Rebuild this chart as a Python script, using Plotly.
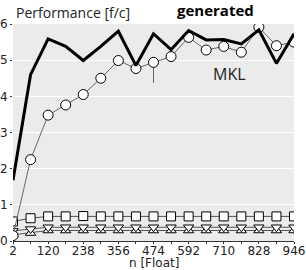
import plotly.graph_objects as go

n_values = [2, 61, 120, 179, 238, 297, 356, 415, 474, 533, 592, 651, 710, 769, 828, 887, 946]
generated = [1.68, 4.6, 5.59, 5.38, 4.99, 5.38, 5.8, 4.85, 5.73, 5.29, 5.82, 5.56, 5.57, 5.45, 5.84, 4.91, 5.73]
mkl = [0.15, 2.25, 3.48, 3.76, 4.05, 4.5, 4.99, 4.77, 4.94, 5.1, 5.63, 5.28, 5.38, 5.22, 5.91, 5.4, 5.5]
mkl_err_minus = [0, 0, 0, 0, 0, 0, 0, 0, 0.57, 0, 0, 0, 0, 0, 0, 0, 0]
squares = [0.54, 0.63, 0.68, 0.68, 0.69, 0.68, 0.68, 0.68, 0.68, 0.68, 0.68, 0.68, 0.68, 0.68, 0.68, 0.68, 0.68]
tri_down = [0.28, 0.33, 0.38, 0.38, 0.38, 0.38, 0.38, 0.38, 0.38, 0.38, 0.38, 0.38, 0.38, 0.38, 0.38, 0.38, 0.38]
tri_up = [0.17, 0.22, 0.29, 0.29, 0.29, 0.29, 0.29, 0.29, 0.29, 0.29, 0.29, 0.29, 0.29, 0.29, 0.29, 0.29, 0.29]
x_tick_labels = ["2", "", "120", "", "238", "", "356", "", "474", "", "592", "", "710", "", "828", "", "946"]
y_ticks = [0, 1, 2, 3, 4, 5, 6]

fig = go.Figure()

fig.add_trace(go.Scatter(x=n_values, y=tri_up, mode="lines+markers",
                         line=dict(color="#555555", width=1),
                         marker=dict(symbol="triangle-up", size=9, color="white",
                                     line=dict(color="black", width=1))))
fig.add_trace(go.Scatter(x=n_values, y=tri_down, mode="lines+markers",
                         line=dict(color="#555555", width=1),
                         marker=dict(symbol="triangle-down", size=9, color="white",
                                     line=dict(color="black", width=1))))
fig.add_trace(go.Scatter(x=n_values, y=squares, mode="lines+markers",
                         line=dict(color="#555555", width=1),
                         marker=dict(symbol="square", size=9, color="white",
                                     line=dict(color="black", width=1))))
fig.add_trace(go.Scatter(x=n_values, y=mkl, mode="lines+markers",
                         line=dict(color="#666666", width=1),
                         error_y=dict(type="data", symmetric=False, array=[0] * len(mkl),
                                      arrayminus=mkl_err_minus, color="#666666",
                                      thickness=1, width=0),
                         marker=dict(symbol="circle", size=10, color="white",
                                     line=dict(color="black", width=1))))
fig.add_trace(go.Scatter(x=n_values, y=generated, mode="lines",
                         line=dict(color="black", width=3)))

fig.update_layout(
    width=306, height=270,
    margin=dict(l=13, r=12, t=24, b=29),
    paper_bgcolor="white", plot_bgcolor="#ebebeb",
    showlegend=False,
    font=dict(family="DejaVu Sans", size=12, color="#222222"),
    annotations=[
        dict(text="Performance [f/c]", x=0.005, y=1.0, xref="paper", yref="paper",
             xanchor="left", yanchor="bottom", showarrow=False,
             font=dict(family="Open Sans", size=14, color="#222222")),
        dict(text="<b>generated</b>", x=0.575, y=1.0, xref="paper", yref="paper",
             xanchor="left", yanchor="bottom", yshift=2, showarrow=False,
             font=dict(family="Open Sans", size=15, color="black")),
        dict(text="MKL", x=0.705, y=0.77, xref="paper", yref="paper",
             xanchor="left", yanchor="middle", showarrow=False,
             font=dict(family="Open Sans", size=16, color="#222222")),
        dict(text="n [Float]", x=0.5, y=0, xref="paper", yref="paper",
             xanchor="center", yanchor="bottom", yshift=-30, borderpad=0,
             showarrow=False,
             font=dict(family="DejaVu Sans", size=12, color="#222222")),
    ],
)
fig.update_xaxes(range=[2, 946], tickvals=n_values, ticktext=x_tick_labels,
                 ticks="outside", ticklen=2, tickcolor="#333333", automargin=False,
                 ticklabelstandoff=-3,
                 showgrid=False, zeroline=False, showline=True, linecolor="#333333",
                 tickfont=dict(size=12))
fig.update_yaxes(range=[0, 6], tickvals=y_ticks, ticks="outside", ticklen=2,
                 tickcolor="#333333", showgrid=True, gridcolor="white", gridwidth=1,
                 automargin=False, zeroline=False, tickfont=dict(size=12))

fig.write_html("out.html", config={"displayModeBar": False},
               post_script="document.body.style.margin='0px';")
